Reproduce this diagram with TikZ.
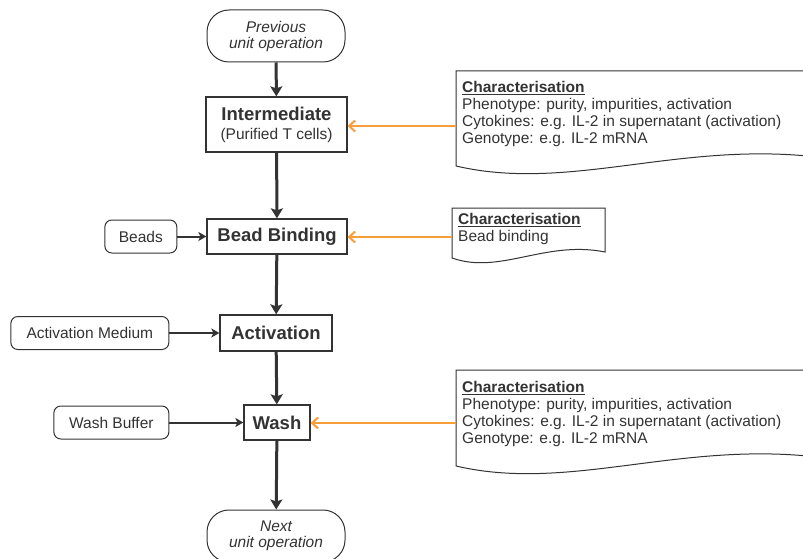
\documentclass[tikz,border=0pt]{standalone}
\usepackage{fontspec}
\setmainfont{Liberation Sans}
\usetikzlibrary{positioning, arrows.meta}
\definecolor{dgray}{RGB}{51,51,51}
\definecolor{qcorange}{RGB}{247,158,58}

\begin{document}
\begin{tikzpicture}[
    x=1pt, y=-1pt,
    every node/.style={text=dgray},
    proc/.style={rectangle, draw=dgray, line width=1.3pt, fill=white, inner sep=0pt, align=center, font=\bfseries\fontsize{18.5}{21}\selectfont},
    term/.style={rectangle, draw=dgray, line width=1pt, rounded corners=22pt, inner sep=0pt, align=center, minimum width=138pt, minimum height=52pt, font=\itshape\fontsize{15.5}{16}\selectfont},
    inbox/.style={rectangle, draw=dgray, line width=1pt, rounded corners=7pt, inner sep=0pt, minimum height=33pt, font=\fontsize{15.5}{17}\selectfont},
    doc/.style={draw=dgray, line width=1pt, fill=white},
    doctext/.style={anchor=north west, inner sep=0pt, align=left, font=\fontsize{15.5}{17}\selectfont},
    flow/.style={-{Stealth[length=10pt, width=12pt, inset=2pt]}, draw=dgray, line width=3pt},
    feed/.style={-{Stealth[length=8pt, width=9pt, inset=2pt]}, draw=dgray, line width=2pt},
    check/.style={-{Straight Barb[length=6pt, width=11pt]}, draw=qcorange, line width=2pt}
]
    \useasboundingbox[fill=white] (0,0) rectangle (803,559);

    % main line
    \node[term] (prev) at (276,36) {Previous\\unit operation};
    \node[proc, minimum width=141pt, minimum height=55pt] (interm) at (276.5,124.5)
        {Intermediate\\[-2pt]{\normalfont\fontsize{15.5}{17}\selectfont (Purified T cells)}};
    \node[proc, minimum width=140pt, minimum height=35pt] (bead) at (277,236.5) {Bead Binding};
    \node[proc, minimum width=112pt, minimum height=36pt] (act) at (276,333) {Activation};
    \node[proc, minimum width=66pt, minimum height=35pt] (wash) at (277,422.5) {Wash};
    \node[term] (next) at (276,536) {Next\\unit operation};

    % inputs
    \node[inbox, minimum width=72pt, left=29pt of bead] (beads) {Beads};
    \node[inbox, minimum width=158pt, left=50pt of act] (actmed) {Activation Medium};
    \node[inbox, minimum width=115pt, left=74pt of wash] (buffer) {Wash Buffer};

    % characterisation documents
    \draw[doc] (860,71) -- (456,71) -- (456,166)
        .. controls (580,195) and (700,130) .. (860,164) -- cycle;
    \node[doctext] (charA) at (462,81) {\underline{\textbf{Characterisation}}\\
        Phenotype: purity, impurities, activation\\
        Cytokines: e.g. IL-2 in supernatant (activation)\\
        Genotype: e.g. IL-2 mRNA};
    \coordinate (docA) at (456,126);

    \draw[doc] (605,208) -- (452,208) -- (452,258)
        .. controls (500,275) and (545,240) .. (605,252) -- cycle;
    \node[doctext] (charB) at (458,213) {\underline{\textbf{Characterisation}}\\
        Bead binding};
    \coordinate (docB) at (452,237);

    \draw[doc] (860,370) -- (456,370) -- (456,466)
        .. controls (580,495) and (700,430) .. (860,464) -- cycle;
    \node[doctext] (charC) at (462,381) {\underline{\textbf{Characterisation}}\\
        Phenotype: purity, impurities, activation\\
        Cytokines: e.g. IL-2 in supernatant (activation)\\
        Genotype: e.g. IL-2 mRNA};
    \coordinate (docC) at (456,423);

    % connectors
    \draw[flow] (prev) -- (interm);
    \draw[flow] (interm) -- (bead);
    \draw[flow] (bead) -- (act);
    \draw[flow] (act) -- (wash);
    \draw[flow] (wash) -- (next);

    \draw[feed] (beads) -- (bead);
    \draw[feed] (actmed) -- (act);
    \draw[feed] (buffer) -- (wash);

    \draw[check] (docA) -- (interm.east |- docA);
    \draw[check] (docB) -- (bead.east |- docB);
    \draw[check] (docC) -- (wash.east |- docC);
\end{tikzpicture}
\end{document}
